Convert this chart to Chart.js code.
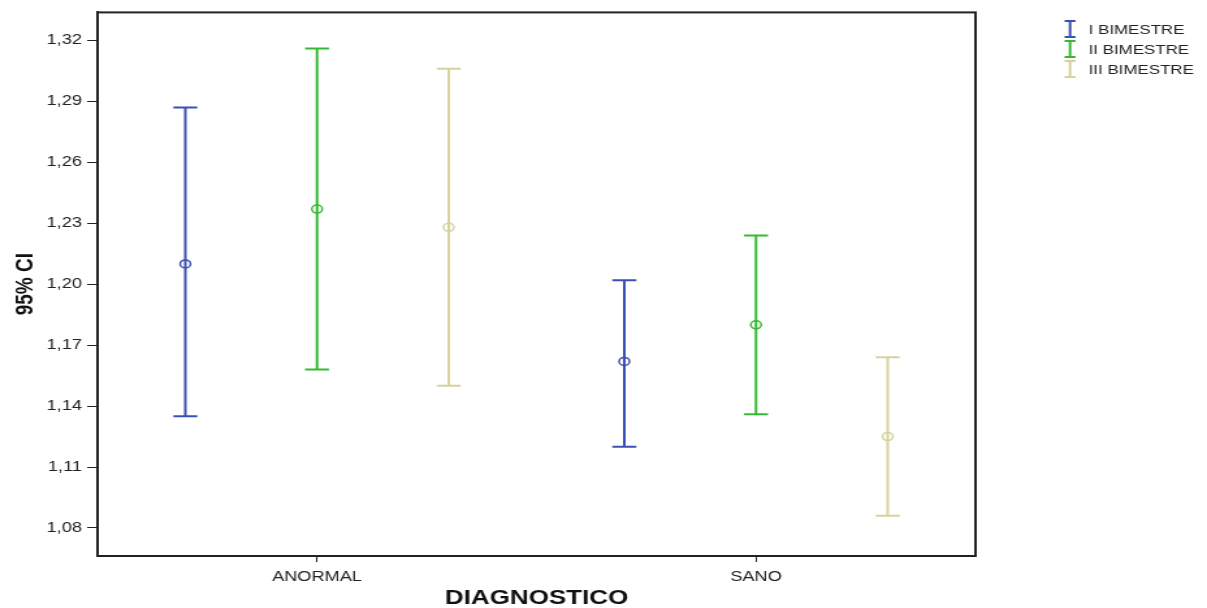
<!DOCTYPE html>
<html>
<head>
<meta charset="utf-8">
<script src="https://cdn.jsdelivr.net/npm/chart.js@4"></script>
<style>
  html, body { margin: 0; padding: 0; background: #fff; overflow: hidden; }
  /* the original export is stretched horizontally, so the chart is drawn narrower and scaled */
  #wrap { width: 928px; height: 608px; position: relative; transform: scaleX(1.30065); transform-origin: 0 0; }
</style>
</head>
<body>
<div id="wrap"><canvas id="myChart"></canvas></div>
<script>
var categories = ["ANORMAL", "SANO"];
var seriesNames = ["I BIMESTRE", "II BIMESTRE", "III BIMESTRE"];
var seriesColors = ["#3b50b4", "#35b935", "#d6d29e"];
// mean and 95% CI per series, one value per category
var means = [[1.210, 1.162], [1.237, 1.180], [1.228, 1.125]];
var lower = [[1.135, 1.120], [1.158, 1.136], [1.150, 1.086]];
var upper = [[1.287, 1.202], [1.316, 1.224], [1.306, 1.164]];
var yTicks = [1.08, 1.11, 1.14, 1.17, 1.20, 1.23, 1.26, 1.29, 1.32];
var offsets = [-0.3, 0, 0.3];

var fontFamily = "'Liberation Sans', Arial, sans-serif";

var datasets = [];
for (var s = 0; s < seriesNames.length; s++) {
  var bars = [];
  var pts = [];
  for (var c = 0; c < categories.length; c++) {
    var xx = c + 1 + offsets[s];
    bars.push({ x: xx, y: lower[s][c] });
    bars.push({ x: xx, y: upper[s][c] });
    bars.push({ x: xx, y: null });
    pts.push({ x: xx, y: means[s][c] });
  }
  datasets.push({
    label: seriesNames[s],
    type: "line",
    data: bars,
    showLine: true,
    spanGaps: false,
    borderColor: seriesColors[s],
    borderWidth: 2,
    pointStyle: "line",
    pointRadius: 9.2,
    pointBorderColor: seriesColors[s],
    pointBorderWidth: 2
  });
  datasets.push({
    label: seriesNames[s] + " mean",
    type: "scatter",
    data: pts,
    pointStyle: "circle",
    pointRadius: 4,
    pointBackgroundColor: "rgba(0,0,0,0)",
    pointBorderColor: seriesColors[s],
    pointBorderWidth: 1.5
  });
}

var framePlugin = {
  id: "frame",
  afterDraw: function (chart) {
    var ctx = chart.ctx;
    var a = chart.chartArea;
    ctx.save();
    ctx.strokeStyle = "#222";
    ctx.lineWidth = 2;
    ctx.strokeRect(a.left, a.top, a.right - a.left, a.bottom - a.top);

    // legend
    ctx.font = "13px " + fontFamily;
    ctx.textBaseline = "middle";
    ctx.textAlign = "left";
    for (var i = 0; i < seriesNames.length; i++) {
      var ly = 29 + i * 20;
      var lx = 822.7;
      ctx.strokeStyle = seriesColors[i];
      ctx.lineWidth = 2;
      ctx.beginPath();
      ctx.moveTo(lx - 4.2, ly - 8); ctx.lineTo(lx + 4.2, ly - 8);
      ctx.moveTo(lx, ly - 8); ctx.lineTo(lx, ly + 8);
      ctx.moveTo(lx - 4.2, ly + 8); ctx.lineTo(lx + 4.2, ly + 8);
      ctx.stroke();
      ctx.fillStyle = "#222";
      ctx.fillText(seriesNames[i], 837, ly + 1);
    }
    ctx.restore();
  }
};

function createChart() {
  var ctx = document.getElementById("myChart").getContext("2d");
  new Chart(ctx, {
    type: "scatter",
    data: { datasets: datasets },
    plugins: [framePlugin],
    options: {
      responsive: true,
      maintainAspectRatio: false,
      animation: false,
      layout: { padding: { top: 12, right: 178, left: 0, bottom: 0 } },
      plugins: {
        legend: { display: false },
        tooltip: { enabled: false }
      },
      scales: {
        x: {
          type: "linear",
          min: 0.5,
          max: 2.5,
          afterBuildTicks: function (scale) {
            scale.ticks = categories.map(function (c, i) { return { value: i + 1 }; });
          },
          afterFit: function (scale) { scale.height = 52; },
          grid: { drawOnChartArea: false, drawTicks: true, tickLength: 6, tickColor: "#222" },
          border: { display: true, color: "#222", width: 2 },
          ticks: {
            padding: 7,
            color: "#222",
            font: { family: fontFamily, size: 14 },
            callback: function (v) { return categories[Math.round(v) - 1]; }
          },
          title: {
            display: true,
            text: "DIAGNOSTICO",
            color: "#111",
            padding: { top: 0, bottom: 0 },
            font: { family: fontFamily, size: 20, weight: "bold", lineHeight: 1 }
          }
        },
        y: {
          min: 1.0662,
          max: 1.3338,
          afterBuildTicks: function (scale) {
            scale.ticks = yTicks.map(function (v) { return { value: v }; });
          },
          afterFit: function (scale) { scale.width = 75; },
          grid: { drawOnChartArea: false, drawTicks: true, tickLength: 8, tickColor: "#222" },
          border: { display: true, color: "#222", width: 2 },
          ticks: {
            padding: 4,
            color: "#222",
            font: { family: fontFamily, size: 14 },
            callback: function (v) { return v.toFixed(2).replace(".", ","); }
          },
          title: {
            display: true,
            text: "95% CI",
            color: "#111",
            padding: { top: 8, bottom: 0 },
            font: { family: fontFamily, size: 19, weight: "bold" }
          }
        }
      }
    }
  });
}
createChart();
</script>
</body>
</html>
